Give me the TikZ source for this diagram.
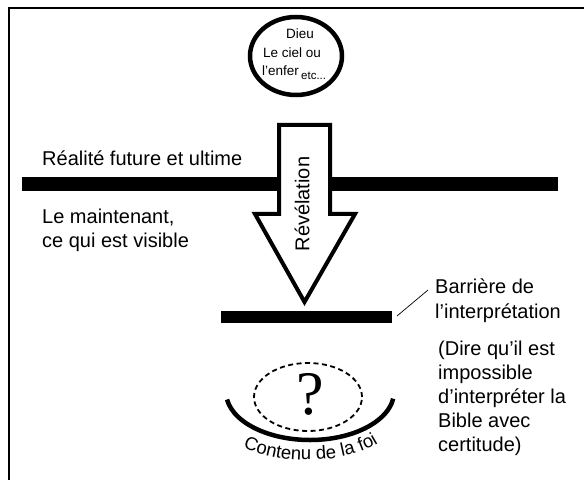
\documentclass[tikz,border=0pt]{standalone}
\usepackage{fontspec}
\setmainfont{Liberation Sans}
\newfontfamily\qserif{Liberation Serif}
\usetikzlibrary{calc,decorations.text,shapes.geometric}
\begin{document}
\begin{tikzpicture}[x=1pt,y=1pt,
  big/.style={font=\fontsize{20}{24}\selectfont, inner sep=0pt, anchor=base west},
  small/.style={font=\fontsize{13.5}{15}\selectfont, inner sep=0pt},
  barfill/.style={fill=black, draw=none},
  thickline/.style={line width=4.5pt},
]
\useasboundingbox (0,0) rectangle (584,480);
\fill[white] (0,0) rectangle (584,480);
% frame
\draw[line width=1.5pt] (9,0) -- (9,472) -- (584,472);
% heaven ellipse
\node[draw, ellipse, thickline, minimum width=92, minimum height=78, inner sep=0] (heaven) at (296,424) {};
\node[small] (dieu) at (300,446) {Dieu};
\node[small] (ciel) at (292,427) {Le ciel ou};
\node[small, anchor=west] (enfer) at (262,409) {l’enfer};
\node[font=\fontsize{11.5}{13}\selectfont, inner sep=0pt, anchor=west] (etc) at (301,404) {etc...};
% main bar
\fill[barfill] (22,289) rectangle (558,303);
% arrow
\draw[line width=4pt, fill=white, line join=miter] (279,355) -- (330,355) -- (330,266) -- (355,266) -- (304.5,178) -- (255,266) -- (279,266) -- cycle;
\node[font=\fontsize{20}{24}\selectfont, rotate=90, inner sep=0pt] (rev) at (302,276) {Révélation};
% left texts
\node[big] (reel) at (42,314) {Réalité future et ultime};
\node[big] (maint1) at (42,256) {Le maintenant,};
\node[big] (maint2) at (42,232) {ce qui est visible};
% barrier
\fill[barfill] (221,157) rectangle (392,169);
\coordinate (l1) at (397,164);
\coordinate (l2) at (428,190);
\draw[line width=0.7pt] (l1) -- (l2);
% right texts
\node[big] (bar1) at (435,186) {Barrière de};
\node[big] (bar2) at (435,162) {l’interprétation};
\node[big] (d1) at (438,125) {(Dire qu’il est};
\node[big] (d2) at (438,101) {impossible};
\node[big] (d3) at (438,77) {d’interpréter la};
\node[big] (d4) at (438,53) {Bible avec};
\node[big] (d5) at (438,29) {certitude)};
% faith content
\draw[line width=1.8pt, dash pattern=on 5pt off 3.5pt] (308,83) ellipse [x radius=54, y radius=34];
\node[font=\qserif\fontsize{62}{62}\selectfont, inner sep=0pt] (q) at (310,86) {?};
\draw[thickline] ($(310,88)+(189:84 and 48)$) arc[start angle=189, end angle=352, x radius=84, y radius=48];
\path[decorate, decoration={text along path, text align=center, text={|\fontsize{18.5}{19}\selectfont|Contenu de la foi}}] ($(307,66)+(195:92 and 46)$) arc[start angle=195, end angle=355, x radius=92, y radius=46];
\end{tikzpicture}
\end{document}
